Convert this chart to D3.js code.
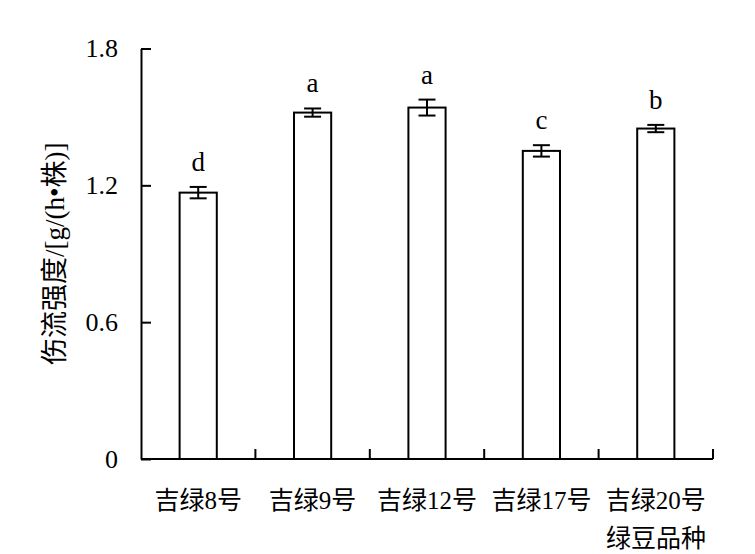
<!DOCTYPE html>
<html><head><meta charset="utf-8">
<script src="https://cdn.jsdelivr.net/npm/d3@7"></script>
<style>
body{margin:0;background:#fff;}
text{font-family:"Liberation Serif","Times New Roman","Noto Sans CJK SC",serif;fill:#000;}
</style></head>
<body><svg id="c" width="755" height="554"></svg>
<script>
const categories = ["吉绿8号","吉绿9号","吉绿12号","吉绿17号","吉绿20号"];
const values = [1.168, 1.519, 1.541, 1.351, 1.449];
const errors = [0.025, 0.018, 0.035, 0.025, 0.016];
const letters = ["d","a","a","c","b"];
const yTicks = [0, 0.6, 1.2, 1.8];
const yTickLabels = ["0","0.6","1.2","1.8"];
const yLabel = "伤流强度/[g/(h•株)]";
const xLabel = "绿豆品种";

const svg = d3.select("#c");
const m = {left:141, top:48.5, right:42, bottom:95};
const W = 755 - m.left - m.right, H = 554 - m.top - m.bottom;
const g = svg.append("g").attr("transform",`translate(${m.left},${m.top})`);

const x = d3.scaleBand().domain(categories).range([0,W]).paddingInner(0.675).paddingOuter(0.3375);
const y = d3.scaleLinear().domain([0,1.8]).range([H,0]);

// bars
g.selectAll("rect.bar").data(categories).join("rect").attr("class","bar")
  .attr("x",d=>x(d)).attr("width",x.bandwidth())
  .attr("y",(d,i)=>y(values[i])).attr("height",(d,i)=>y(0)-y(values[i]))
  .attr("fill","#fff").attr("stroke","#000").attr("stroke-width",2);

// error bars
const capW = 17;
categories.forEach((c,i)=>{
  const cx = x(c)+x.bandwidth()/2;
  const t = y(values[i]+errors[i]), b = y(values[i]-errors[i]);
  const eg = g.append("g").attr("stroke","#000").attr("stroke-width",2);
  eg.append("line").attr("x1",cx).attr("x2",cx).attr("y1",t).attr("y2",b);
  eg.append("line").attr("x1",cx-capW/2).attr("x2",cx+capW/2).attr("y1",t).attr("y2",t);
  eg.append("line").attr("x1",cx-capW/2).attr("x2",cx+capW/2).attr("y1",b).attr("y2",b);
  g.append("text").attr("x",cx).attr("y",t-16).attr("text-anchor","middle")
    .style("font-size","27px").text(letters[i]);
});

// y axis
const ya = d3.axisLeft(y).tickValues(yTicks).tickFormat((d,i)=>yTickLabels[i])
  .tickSizeInner(-10).tickSizeOuter(0).tickPadding(23);
const yg = g.append("g").call(ya);
yg.selectAll("path,line").attr("stroke","#000").attr("stroke-width",2);
yg.selectAll("text").style("font-size","26px").attr("font-family",null);

// x axis
const xa = d3.axisBottom(x).tickSize(0).tickPadding(32);
const xg = g.append("g").attr("transform",`translate(0,${H})`).call(xa);
xg.select("path").attr("stroke","#000").attr("stroke-width",2).attr("d",`M0,0H${W}`);
xg.selectAll("text").style("font-size","25px").attr("font-family",null);
// boundary ticks pointing up
const bounds = d3.range(1, categories.length+1).map(k=>k*x.step());
g.selectAll("line.bt").data(bounds).join("line").attr("class","bt")
  .attr("x1",d=>d).attr("x2",d=>d).attr("y1",H).attr("y2",H-10)
  .attr("stroke","#000").attr("stroke-width",2);

// axis titles
svg.append("text").attr("transform",`translate(64,${m.top+H/2}) rotate(-90)`)
  .attr("text-anchor","middle").style("font-size","27px").text(yLabel);
svg.append("text").attr("x",m.left+W-7).attr("y",547).attr("text-anchor","end")
  .style("font-size","25px").text(xLabel);
</script></body></html>
